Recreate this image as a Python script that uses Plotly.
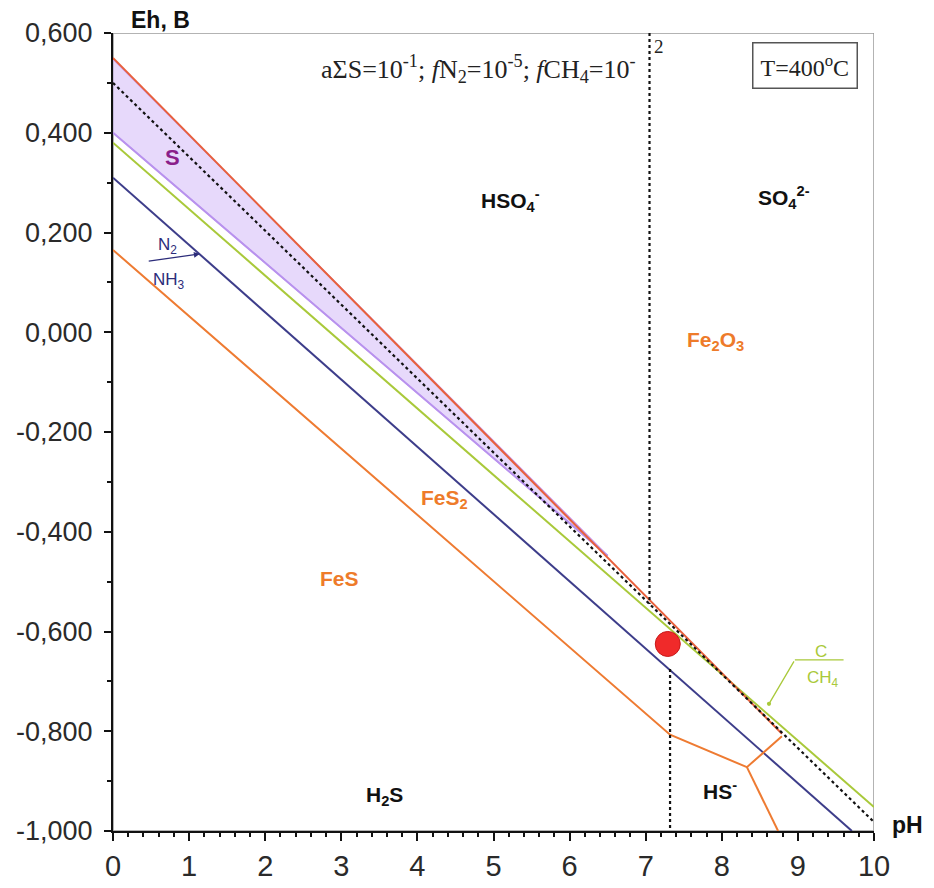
import plotly.graph_objects as go

# ---------------- data (Eh-pH diagram, T=400 C) ----------------
x_tick_vals = [0, 1, 2, 3, 4, 5, 6, 7, 8, 9, 10]
x_tick_text = ["0", "1", "2", "3", "4", "5", "6", "7", "8", "9", "10"]
y_tick_vals = [-1.0, -0.8, -0.6, -0.4, -0.2, 0.0, 0.2, 0.4, 0.6]
y_tick_text = ["-1,000", "-0,800", "-0,600", "-0,400", "-0,200", "0,000", "0,200", "0,400", "0,600"]

# S stability field (wedge)
s_field_ph = [0, 6.5, 0]
s_field_eh = [0.548, -0.448, 0.40]
# lower boundary of S field
s_lower_ph = [0, 6.5]
s_lower_eh = [0.40, -0.448]

# Fe2O3 / FeS2 (upper) boundary
fe2o3_ph = [0, 8.79]
fe2o3_eh = [0.55, -0.805]

# sulfate / sulfide dotted boundary
sulf_ph = [0, 10]
sulf_eh = [0.50, -0.982]

# C / CH4
c_ch4_ph = [0, 10]
c_ch4_eh = [0.38, -0.952]

# N2 / NH3
n2_nh3_ph = [0, 9.71]
n2_nh3_eh = [0.31, -1.0]

# FeS2 / FeS and related boundaries
fes_ph = [0, 7.32, 8.33, 8.79]
fes_eh = [0.165, -0.807, -0.872, -0.81]
fes_hs_ph = [8.33, 8.74]
fes_hs_eh = [-0.872, -1.0]

# HSO4- / SO4 2- (upper) and H2S / HS- (lower) dotted verticals
hso4_ph = [7.05, 7.05]
hso4_eh = [0.6, -0.545]
h2s_ph = [7.32, 7.32]
h2s_eh = [-0.675, -1.0]

# sample point
pt_ph = [7.29]
pt_eh = [-0.625]

fig = go.Figure()

def line(xs, ys, color, width=2, dash="solid"):
    fig.add_trace(go.Scatter(x=xs, y=ys, mode="lines",
                             line=dict(color=color, width=width, dash=dash),
                             hoverinfo="skip", showlegend=False))

fig.add_trace(go.Scatter(x=s_field_ph, y=s_field_eh, mode="lines", fill="toself",
                         fillcolor="rgba(212,186,248,0.55)",
                         line=dict(color="rgba(200,150,235,1)", width=1.5),
                         hoverinfo="skip", showlegend=False))
line(s_lower_ph, s_lower_eh, "#b892ee", 2)
line(c_ch4_ph, c_ch4_eh, "#a9c93a", 2)
line(n2_nh3_ph, n2_nh3_eh, "#3d3d8a", 2)
line(fes_ph, fes_eh, "#ee7b32", 2)
line(fes_hs_ph, fes_hs_eh, "#ee7b32", 2)
line(fe2o3_ph, fe2o3_eh, "#e8603c", 2)
line(sulf_ph, sulf_eh, "#111111", 2.2, "dot")
line(hso4_ph, hso4_eh, "#111111", 2.2, "dot")
line(h2s_ph, h2s_eh, "#111111", 2.2, "dot")

fig.add_trace(go.Scatter(x=pt_ph, y=pt_eh, mode="markers",
                         marker=dict(size=25, color="#f02a2a",
                                     line=dict(color="#c81818", width=1)),
                         hoverinfo="skip", showlegend=False))

sans = "Liberation Sans, Arial, sans-serif"
serif = "Liberation Serif, Times New Roman, serif"

ann = []
def lab(x, y, text, color="#111111", size=21, ref="data", font=sans, xanchor="center"):
    r = ref == "paper"
    ann.append(dict(x=x, y=y, text=text, showarrow=False,
                    xref="paper" if r else "x", yref="paper" if r else "y",
                    xanchor=xanchor, yanchor="middle",
                    font=dict(family=font, size=size, color=color)))

lab(0.78, 0.35, "<b>S</b>", "#8a1f8a", 22)
lab(5.22, 0.265, "<b>HSO<sub>4</sub><sup>-</sup></b>")
lab(8.82, 0.27, "<b>SO<sub>4</sub><sup>2-</sup></b>")
lab(7.92, -0.018, "<b>Fe<sub>2</sub>O<sub>3</sub></b>", "#ee7b2a")
lab(4.36, -0.335, "<b>FeS<sub>2</sub></b>", "#ee7b2a")
lab(2.98, -0.493, "<b>FeS</b>", "#ee7b2a")
lab(3.57, -0.93, "<b>H<sub>2</sub>S</b>")
lab(7.98, -0.918, "<b>HS<sup>-</sup></b>")
lab(0.71, 0.172, "N<sub>2</sub>", "#2c2c7a", 17)
lab(0.73, 0.103, "NH<sub>3</sub>", "#2c2c7a", 17)
lab(9.3, -0.64, "C", "#a9c93a", 17)
lab(9.33, -0.695, "CH<sub>4</sub>", "#a9c93a", 17)

lab(0.062, 1.016, "<b>Eh, B</b>", "#111111", 23, "paper")
lab(1.044, 0.007, "<b>pH</b>", "#111111", 23, "paper")
lab((638 - 113) / 761, 0.955,
    "aΣS=10<sup>-1</sup>; <i>f</i>N<sub>2</sub>=10<sup>-5</sup>; <i>f</i>CH<sub>4</sub>=10<sup>-</sup>",
    "#222222", 26, "paper", serif, "right")
lab((659 - 113) / 761, 0.983, "2", "#222222", 19, "paper", serif)

ann.append(dict(x=(805 - 113) / 761, y=(831 - 66) / 798, xref="paper", yref="paper",
                xanchor="center", yanchor="middle",
                text="T=400<sup>o</sup>C", showarrow=False,
                font=dict(family=serif, size=24, color="#222222"),
                bordercolor="#555555", borderwidth=1.5, borderpad=7,
                bgcolor="white"))

# N2/NH3 fraction bar with arrow to line
ann.append(dict(x=1.14, y=0.157, ax=0.45, ay=0.142, xref="x", yref="y",
                axref="x", ayref="y", text="", showarrow=True,
                arrowhead=2, arrowsize=0.9, arrowwidth=1.3, arrowcolor="#2c2c7a"))
# C/CH4 leader
ann.append(dict(x=8.62, y=-0.745, ax=8.96, ay=-0.657, xref="x", yref="y",
                axref="x", ayref="y", text="", showarrow=True,
                arrowhead=6, arrowsize=0.8, arrowwidth=1.3, arrowcolor="#a9c93a"))

shapes = [
    dict(type="rect", xref="x", yref="y", x0=0, x1=10, y0=-1.0, y1=0.6,
         line=dict(color="#9a9a9a", width=1.5), layer="below"),
    dict(type="line", xref="x", yref="y", x0=8.96, x1=9.6, y0=-0.657, y1=-0.657,
         line=dict(color="#a9c93a", width=1.3)),
]

fig.update_layout(
    width=934, height=888,
    margin=dict(l=113, r=60, t=33, b=57),
    paper_bgcolor="white", plot_bgcolor="white",
    annotations=ann, shapes=shapes, showlegend=False,
    xaxis=dict(range=[0, 10], tickmode="array", tickvals=x_tick_vals, ticktext=x_tick_text,
               automargin=False,
               showgrid=False, zeroline=False, showline=True, linecolor="#111111", linewidth=2,
               ticks="outside", ticklen=8, tickwidth=2, tickcolor="#111111",
               ticklabelstandoff=0,
               tickfont=dict(family=sans, size=29, color="#2a2a2a"),
               minor=dict(tickmode="linear", tick0=0, dtick=0.2, ticks="outside",
                          ticklen=4, tickwidth=1.5, tickcolor="#111111")),
    yaxis=dict(range=[-1.0, 0.6], tickmode="array", tickvals=y_tick_vals, ticktext=y_tick_text,
               automargin=False,
               showgrid=False, zeroline=False, showline=True, linecolor="#111111", linewidth=2,
               ticks="outside", ticklen=7, tickwidth=2, tickcolor="#111111",
               ticklabelstandoff=6,
               tickfont=dict(family=sans, size=27, color="#2a2a2a"),
               minor=dict(tickmode="linear", tick0=0, dtick=0.1, ticks="outside",
                          ticklen=4, tickwidth=1.5, tickcolor="#111111")),
)

fig.write_html("out.html")
